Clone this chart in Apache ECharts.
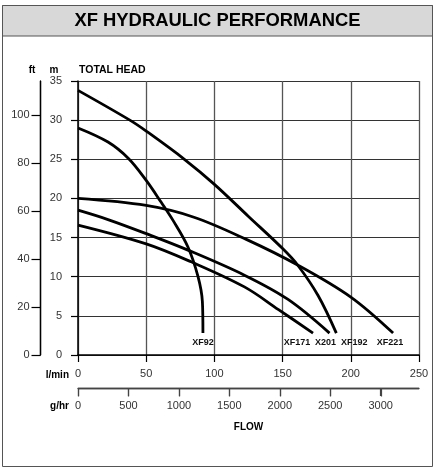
<!DOCTYPE html>
<html>
<head>
<meta charset="utf-8">
<script src="https://cdn.jsdelivr.net/npm/echarts@6/dist/echarts.min.js"></script>
<style>
  html, body { margin: 0; padding: 0; background: #fff; }
  #main { width: 435px; height: 468px; }
</style>
</head>
<body>
<div id="main"></div>
<script type="text/javascript">
// pump curves: flow in l/min, head in m
var flowXF92 = [0, 22, 37, 50, 61, 70, 80.6, 88, 91.2, 91.6];
var headXF92 = [29.0, 27.2, 25.1, 22.3, 19.5, 17.1, 13.8, 10.0, 6.8, 2.8];

var flowXF171 = [0, 50, 83, 122, 147, 172.3];
var headXF171 = [16.6, 14.2, 11.9, 8.7, 5.8, 2.8];

var flowX201 = [0, 22, 50, 80.6, 122, 154, 184.4];
var headX201 = [18.5, 17.3, 15.5, 13.4, 10.2, 7.1, 2.8];

var flowXF192 = [0, 38, 50, 78, 100, 125, 150, 161, 176, 189.4];
var headXF192 = [33.8, 30.0, 28.6, 25.0, 21.8, 17.7, 13.6, 11.5, 7.6, 2.8];

var flowXF221 = [0, 50, 85, 123, 161, 200, 231];
var headXF221 = [20.0, 19.1, 17.6, 14.8, 11.5, 7.4, 2.8];

var FLOW_MAX = 250;      // l/min
var HEAD_MAX = 35;       // m
var FT_MAX = 114.2;      // 35 m expressed in ft
var GHR_MAX = 3380;      // 250 l/min expressed in g/hr
var ghrTicks = [0, 500, 1000, 1500, 2000, 2500, 3000];

var FONT = 'Liberation Sans, Arial, sans-serif';

function pairs(xs, ys, labelOffset, name) {
    var out = [];
    for (var i = 0; i < xs.length; i++) {
        out.push([xs[i], ys[i]]);
    }
    // name label under the end of the curve
    var last = out[out.length - 1];
    out[out.length - 1] = {
        value: last,
        label: {
            show: true,
            position: 'bottom',
            distance: 5,
            offset: [labelOffset, 0],
            formatter: name,
            fontFamily: FONT,
            fontWeight: 'bold',
            fontSize: 9,
            color: '#111'
        }
    };
    return out;
}

function curve(name, xs, ys, labelOffset) {
    return {
        name: name,
        type: 'line',
        xAxisIndex: 0,
        yAxisIndex: 0,
        smooth: 0.35,
        symbol: 'circle',
        symbolSize: 0,
        showSymbol: true,
        lineStyle: { color: '#000', width: 2.8 },
        itemStyle: { color: '#000' },
        data: pairs(xs, ys, labelOffset, name),
        z: 5
    };
}

var plainNum = function (v) { return String(v); };
var hiddenSplit = { show: true, lineStyle: { color: 'rgba(0,0,0,0)', width: 0 } };

var graphics = [
    { type: 'rect', silent: true, shape: { x: 2.5, y: 5.5, width: 430, height: 461 },
      style: { fill: 'none', stroke: '#555', lineWidth: 1 } },
    { type: 'rect', silent: true, shape: { x: 2.5, y: 5.5, width: 430, height: 30.5 },
      style: { fill: '#d8d8d8', stroke: '#555', lineWidth: 1 } },
    { type: 'text', x: 217.5, y: 21,
      style: { text: 'XF HYDRAULIC PERFORMANCE', fill: '#000', font: 'bold 18.4px ' + FONT,
               textAlign: 'center', textVerticalAlign: 'middle' } },
    { type: 'text', x: 32, y: 70,
      style: { text: 'ft', fill: '#000', font: 'bold 10px ' + FONT,
               textAlign: 'center', textVerticalAlign: 'middle' } },
    { type: 'text', x: 54, y: 70,
      style: { text: 'm', fill: '#000', font: 'bold 10px ' + FONT,
               textAlign: 'center', textVerticalAlign: 'middle' } },
    { type: 'text', x: 79, y: 70,
      style: { text: 'TOTAL HEAD', fill: '#000', font: 'bold 10.5px ' + FONT,
               textAlign: 'left', textVerticalAlign: 'middle' } },
    { type: 'text', x: 69, y: 375,
      style: { text: 'l/min', fill: '#000', font: 'bold 10px ' + FONT,
               textAlign: 'right', textVerticalAlign: 'middle' } },
    { type: 'text', x: 69, y: 406,
      style: { text: 'g/hr', fill: '#000', font: 'bold 10px ' + FONT,
               textAlign: 'right', textVerticalAlign: 'middle' } }
];

var myChart = echarts.init(document.getElementById('main'));
myChart.setOption({
    animation: false,
    backgroundColor: '#fff',
    grid: [
        { left: 78, right: 16, top: 81, bottom: 113 },   // main plot
        { left: 40.5, width: 10, top: 81, bottom: 113 }, // ft scale
        { left: 78, right: 16, top: 378, bottom: 80 }    // g/hr scale
    ],
    graphic: graphics,
    xAxis: [{
        gridIndex: 0,
        type: 'value',
        min: 0,
        max: FLOW_MAX,
        interval: 50,
        position: 'bottom',
        axisLine: { show: true, onZero: false, lineStyle: { color: '#000', width: 1.5 } },
        axisTick: { show: true, length: 7, lineStyle: { color: '#000', width: 1.2 } },
        axisLabel: { margin: 13, fontFamily: FONT, fontSize: 11, color: '#333' },
        splitLine: { show: true, lineStyle: { color: '#555', width: 1.3 } }
    }, {
        gridIndex: 1,
        type: 'value',
        min: 0,
        max: 1,
        show: false
    }, {
        gridIndex: 2,
        type: 'value',
        min: 0,
        max: GHR_MAX,
        interval: 500,
        position: 'bottom',
        name: 'FLOW',
        nameLocation: 'middle',
        nameGap: 34,
        nameTextStyle: { fontFamily: FONT, fontWeight: 'bold', fontSize: 10, color: '#000' },
        axisLine: { show: true, onZero: false, lineStyle: { color: '#444', width: 1.3 } },
        axisTick: { show: true, length: 8, lineStyle: { color: '#444', width: 1.2 } },
        axisLabel: { margin: 12, fontFamily: FONT, fontSize: 11, color: '#333',
                     showMaxLabel: false, formatter: plainNum },
        splitLine: hiddenSplit
    }],
    yAxis: [{
        gridIndex: 0,
        type: 'value',
        min: 0,
        max: HEAD_MAX,
        interval: 5,
        position: 'left',
        axisLine: { show: true, onZero: false, lineStyle: { color: '#000', width: 1.5 } },
        axisTick: { show: true, length: 7, lineStyle: { color: '#000', width: 1.2 } },
        axisLabel: { margin: 16, fontFamily: FONT, fontSize: 11, color: '#333' },
        splitLine: { show: true, lineStyle: { color: '#333', width: 1.2 } }
    }, {
        gridIndex: 1,
        type: 'value',
        min: 0,
        max: FT_MAX,
        interval: 20,
        position: 'left',
        axisLine: { show: true, onZero: false, lineStyle: { color: '#000', width: 1.3 } },
        axisTick: { show: true, length: 9, lineStyle: { color: '#000', width: 1.2 } },
        axisLabel: { margin: 11, fontFamily: FONT, fontSize: 11, color: '#333',
                     showMaxLabel: false },
        splitLine: hiddenSplit
    }, {
        gridIndex: 2,
        type: 'value',
        min: 0,
        max: 1,
        show: false
    }],
    series: [
        curve('XF92', flowXF92, headXF92, 0),
        curve('XF171', flowXF171, headXF171, -16),
        curve('X201', flowX201, headX201, -4),
        curve('XF192', flowXF192, headXF192, 18),
        curve('XF221', flowXF221, headXF221, -3)
    ]
});

// the ft and g/hr scale lines don't show up from the extra grids,
// so draw them from the main axes' pixel positions
var x0 = myChart.convertToPixel({ xAxisIndex: 0 }, 0);
var xEnd = myChart.convertToPixel({ xAxisIndex: 0 }, FLOW_MAX);
var yBottom = myChart.convertToPixel({ yAxisIndex: 0 }, 0);
var yTop = myChart.convertToPixel({ yAxisIndex: 0 }, HEAD_MAX);
var ftX = Math.round(x0 - 38) + 0.5;
var ghrY = Math.round(yBottom + 33) + 0.5;

graphics.push({ type: 'line', silent: true, z: 10,
    shape: { x1: ftX, y1: yTop, x2: ftX, y2: yBottom },
    style: { stroke: '#000', lineWidth: 1.3 } });
graphics.push({ type: 'line', silent: true, z: 10,
    shape: { x1: x0, y1: ghrY, x2: xEnd, y2: ghrY },
    style: { stroke: '#444', lineWidth: 1.3 } });
ghrTicks.forEach(function (v) {
    var tx = Math.round(myChart.convertToPixel({ xAxisIndex: 0 }, v * FLOW_MAX / GHR_MAX)) + 0.5;
    graphics.push({ type: 'line', silent: true, z: 10,
        shape: { x1: tx, y1: ghrY, x2: tx, y2: ghrY + 8 },
        style: { stroke: '#444', lineWidth: 1.2 } });
});
myChart.setOption({ graphic: graphics });
</script>
</body>
</html>
